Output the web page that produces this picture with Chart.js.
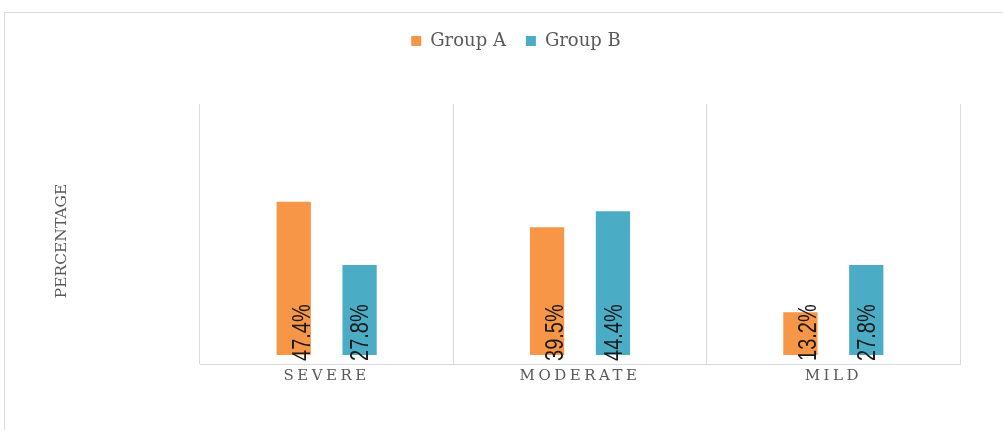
<!DOCTYPE html>
<html>
<head>
<meta charset="utf-8">
<script src="https://cdn.jsdelivr.net/npm/chart.js@4"></script>
<style>
  html, body { margin: 0; padding: 0; background: #fff; }
  #wrap { width: 1003px; height: 430px; }
</style>
</head>
<body>
<div id="wrap"><canvas id="severityChart"></canvas></div>
<script>
    // severity split per group, in percent
    const categories = ["SEVERE", "MODERATE", "MILD"];
    const groupA = [47.4, 39.5, 13.2];
    const groupB = [27.8, 44.4, 27.8];
    const seriesNames = ["Group A", "Group B"];

    const orange = "#F79646";
    const blue = "#4BACC6";
    const greyText = "#595959";
    const serif = "'DejaVu Serif', serif";

    // light frame round the whole chart
    const frame = {
        id: "frame",
        beforeDraw(chart) {
            const ctx = chart.ctx;
            ctx.save();
            ctx.strokeStyle = "#d9d9d9";
            ctx.lineWidth = 1;
            ctx.strokeRect(4.5, 12.5, 1100, 500);
            ctx.restore();
        }
    };

    // legend room/offset, spaced-out category labels, axis title nudge
    const tweaks = {
        id: "tweaks",
        afterInit(chart) {
            const legend = chart.legend;
            const fit = legend.fit.bind(legend);
            legend.fit = function () {
                fit();
                this.height += 44;
            };
        },
        afterLayout(chart) {
            chart.legend.left += 36;
            chart.legend.right += 36;

            const sx = chart.scales.x;
            if (!sx._spaced) {
                const draw = sx.drawLabels.bind(sx);
                sx.drawLabels = function (area) {
                    this.ctx.save();
                    this.ctx.letterSpacing = "3.5px";
                    draw(area);
                    this.ctx.restore();
                };
                sx._spaced = true;
            }
            const sy = chart.scales.y;
            if (!sy._moved) {
                const drawTitle = sy.drawTitle.bind(sy);
                sy.drawTitle = function () {
                    this.ctx.save();
                    this.ctx.translate(0, 7);
                    drawTitle();
                    this.ctx.restore();
                };
                sy._moved = true;
            }
        }
    };

    // value labels written upward from the bottom of each bar
    const barLabels = {
        id: "barLabels",
        afterDatasetsDraw(chart) {
            const ctx = chart.ctx;
            const shift = [9, 2];
            chart.data.datasets.forEach((ds, i) => {
                const meta = chart.getDatasetMeta(i);
                meta.data.forEach((bar, j) => {
                    ctx.save();
                    ctx.translate(bar.x + shift[i], bar.base + 6);
                    ctx.rotate(-Math.PI / 2);
                    ctx.scale(1, 1.25);
                    ctx.font = "20px 'Liberation Sans', Arial, sans-serif";
                    ctx.fillStyle = "#1a1a1a";
                    ctx.textAlign = "left";
                    ctx.textBaseline = "middle";
                    ctx.fillText(ds.data[j].toFixed(1) + "%", 0, 0);
                    ctx.restore();
                });
            });
        }
    };

    const ctx = document.getElementById("severityChart").getContext("2d");

    new Chart(ctx, {
        type: "bar",
        data: {
            labels: categories,
            datasets: [
                { label: seriesNames[0], data: groupA, backgroundColor: orange },
                { label: seriesNames[1], data: groupB, backgroundColor: blue }
            ]
        },
        options: {
            responsive: true,
            maintainAspectRatio: false,
            animation: false,
            layout: { padding: { top: 12, right: 43, left: 0, bottom: 0 } },
            datasets: {
                bar: { barPercentage: 0.52, categoryPercentage: 0.52 }
            },
            scales: {
                x: {
                    grid: { display: true, offset: true, drawTicks: false, color: "#d9d9d9" },
                    border: { display: true, color: "#d9d9d9" },
                    ticks: {
                        padding: 3,
                        color: greyText,
                        font: { family: serif, size: 15 }
                    },
                    afterFit: s => { s.height = 66; }
                },
                y: {
                    min: -2.8,
                    max: 77.6,
                    grid: { display: false },
                    border: { display: false },
                    ticks: { display: false },
                    title: {
                        display: true,
                        text: "PERCENTAGE",
                        color: greyText,
                        font: { family: serif, size: 15.5 },
                        padding: { top: 53, bottom: 0 }
                    },
                    afterFit: s => { s.width = 200; }
                }
            },
            plugins: {
                legend: {
                    position: "top",
                    labels: {
                        boxWidth: 10,
                        boxHeight: 10,
                        padding: 20,
                        color: greyText,
                        font: { family: serif, size: 18 }
                    }
                },
                tooltip: { enabled: false }
            }
        },
        plugins: [frame, tweaks, barLabels]
    });
</script>
</body>
</html>
